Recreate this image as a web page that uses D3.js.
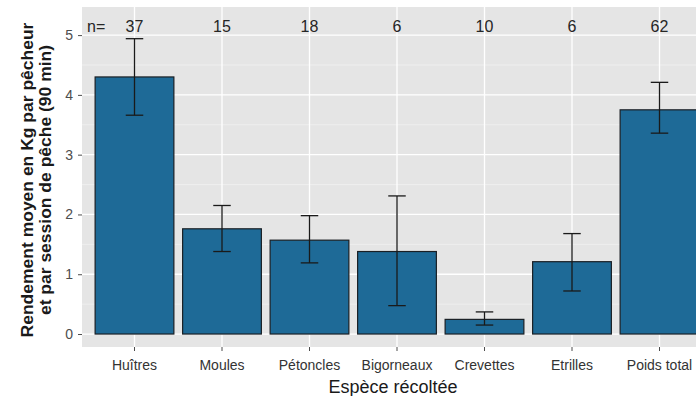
<!DOCTYPE html>
<html>
<head>
<meta charset="utf-8">
<script src="https://cdn.jsdelivr.net/npm/d3@7"></script>
<style>
  html, body { margin: 0; padding: 0; background: #fff; }
  svg { display: block; font-family: "Liberation Sans", Arial, sans-serif; }
</style>
</head>
<body>
<svg id="chart" width="696" height="396"></svg>
<script>
const categories = ["Huîtres", "Moules", "Pétoncles", "Bigorneaux", "Crevettes", "Etrilles", "Poids total"];
const means  = [4.30, 1.76, 1.57, 1.38, 0.245, 1.21, 3.75];
const upper  = [4.94, 2.15, 1.98, 2.31, 0.37, 1.68, 4.21];
const lower  = [3.66, 1.38, 1.19, 0.475, 0.15, 0.72, 3.36];
const counts = ["37", "15", "18", "6", "10", "6", "62"];
const yTicks = [0, 1, 2, 3, 4, 5];
const yMinor = [0.5, 1.5, 2.5, 3.5, 4.5];
const xTitle = "Espèce récoltée";
const yTitle = ["Rendement moyen en Kg par pêcheur", "et par session de pêche (90 min)"];

const svg = d3.select("#chart");
const panel = { left: 82, right: 712, top: 7, bottom: 347 };

const x = d3.scaleBand().domain(categories).range([panel.left, panel.right])
  .paddingInner(0.1).paddingOuter(0.15);
const y = d3.scaleLinear().domain([-0.217, 5.47]).range([panel.bottom, panel.top]);

// panel background
svg.append("rect").attr("x", panel.left).attr("y", panel.top)
  .attr("width", panel.right - panel.left).attr("height", panel.bottom - panel.top)
  .attr("fill", "#e5e5e5");

// minor grid
svg.append("g").selectAll("line").data(yMinor).join("line")
  .attr("x1", panel.left).attr("x2", panel.right)
  .attr("y1", d => y(d)).attr("y2", d => y(d))
  .attr("stroke", "#f2f2f2").attr("stroke-width", 0.7);
// major grid
svg.append("g").selectAll("line").data(yTicks).join("line")
  .attr("x1", panel.left).attr("x2", panel.right)
  .attr("y1", d => y(d)).attr("y2", d => y(d))
  .attr("stroke", "#ffffff").attr("stroke-width", 1.3);
svg.append("g").selectAll("line").data(categories).join("line")
  .attr("x1", d => x(d) + x.bandwidth() / 2).attr("x2", d => x(d) + x.bandwidth() / 2)
  .attr("y1", panel.top).attr("y2", panel.bottom)
  .attr("stroke", "#ffffff").attr("stroke-width", 1.3);

// bars
svg.append("g").selectAll("rect").data(categories).join("rect")
  .attr("x", d => x(d)).attr("width", x.bandwidth())
  .attr("y", (d, i) => y(means[i])).attr("height", (d, i) => y(0) - y(means[i]))
  .attr("fill", "#1e6a97").attr("stroke", "#1a1f24").attr("stroke-width", 1.2);

// error bars
const cap = x.step() * 0.1;
const eb = svg.append("g").attr("stroke", "#1a1a1a").attr("stroke-width", 1.3);
categories.forEach((c, i) => {
  const cx = x(c) + x.bandwidth() / 2;
  eb.append("line").attr("x1", cx).attr("x2", cx).attr("y1", y(lower[i])).attr("y2", y(upper[i]));
  eb.append("line").attr("x1", cx - cap).attr("x2", cx + cap).attr("y1", y(lower[i])).attr("y2", y(lower[i]));
  eb.append("line").attr("x1", cx - cap).attr("x2", cx + cap).attr("y1", y(upper[i])).attr("y2", y(upper[i]));
});

// n labels
svg.append("g").selectAll("text").data(categories).join("text")
  .attr("x", d => x(d) + x.bandwidth() / 2).attr("y", 31.5)
  .attr("text-anchor", "middle").attr("font-size", 16).attr("fill", "#262626")
  .text((d, i) => counts[i]);
svg.append("text").attr("x", 87).attr("y", 31.5).attr("font-size", 16)
  .attr("fill", "#262626").text("n=");

// y axis
const yAxis = svg.append("g").attr("transform", `translate(${panel.left},0)`)
  .call(d3.axisLeft(y).tickValues(yTicks).tickSize(4).tickPadding(5).tickFormat(d3.format("d")));
yAxis.select(".domain").remove();
yAxis.selectAll(".tick line").attr("stroke", "#4d4d4d");
yAxis.selectAll(".tick text").attr("fill", "#4d4d4d").attr("font-size", 14)
  .attr("font-family", "Liberation Sans, Arial, sans-serif");

// x axis
const xAxis = svg.append("g").attr("transform", `translate(0,${panel.bottom})`)
  .call(d3.axisBottom(x).tickSize(4).tickPadding(9));
xAxis.select(".domain").remove();
xAxis.selectAll(".tick line").attr("stroke", "#4d4d4d");
xAxis.selectAll(".tick text").attr("fill", "#333333").attr("font-size", 14)
  .attr("font-family", "Liberation Sans, Arial, sans-serif");

// axis titles
svg.append("text").attr("x", 393).attr("y", 393).attr("text-anchor", "middle")
  .attr("font-size", 18).attr("fill", "#1a1a1a").text(xTitle);

const yt = svg.append("text").attr("transform", "translate(0,180) rotate(-90) scale(1.06,1)")
  .attr("text-anchor", "middle").attr("font-size", 16.5).attr("font-weight", "bold")
  .attr("fill", "#1a1a1a");
yt.append("tspan").attr("x", 0).attr("y", 33).text(yTitle[0]);
yt.append("tspan").attr("x", 0).attr("y", 51).text(yTitle[1]);
</script>
</body>
</html>
